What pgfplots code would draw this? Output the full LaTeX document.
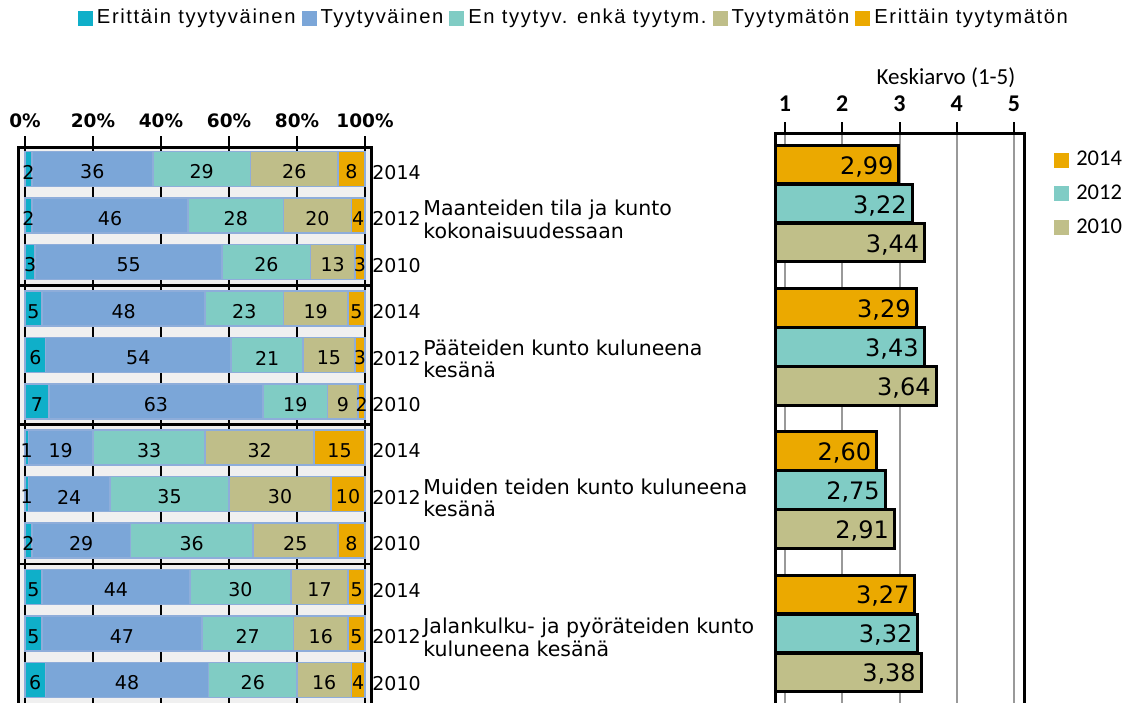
\documentclass[border=0pt]{standalone}
\usepackage{fontspec}
\setmainfont{DejaVu Sans}
\newfontfamily\calibri{Carlito}
\newfontfamily\arialsp[LetterSpace=8]{Liberation Sans}
\usepackage{pgfplots}
\pgfplotsset{compat=1.18}
\usepackage{pgfplotstable}

\definecolor{cEt}{HTML}{0FAFC9}
\definecolor{cTy}{HTML}{7BA6D8}
\definecolor{cEn}{HTML}{80CCC4}
\definecolor{cTm}{HTML}{BFBE89}
\definecolor{cEm}{HTML}{EBA900}
\definecolor{cBd}{HTML}{8EADDA}
\definecolor{r14}{HTML}{EBA900}
\definecolor{r12}{HTML}{80CCC5}
\definecolor{r10}{HTML}{C0BF89}

\pgfplotstableread{
y      et    ty     en     tm     em
-169   1.98  35.64  28.71  25.74  7.92
-215.5 2     46     28     20     4
-262   3     55     26     13     3
-308.5 5     48     23     19     5
-355   6.06  54.55  21.21  15.15  3.03
-401.5 7     63     19     9      2
-447.5 1     19     33     32     15
-494   1     24     35     30     10
-540.5 2     29     36     25     8
-587   4.95  43.56  29.70  16.83  4.95
-633.5 5     47     27     16     5
-680   6     48     26     16     4
}\leftdata

\pgfplotstableread{
y      m1    m2     m3     m4     m5     l1 l2 l3 l4 l5
-169   0.99  19.80  51.98  79.20  96.03  2  36 29 26 8
-215.5 1     25     62     86     98     2  46 28 20 4
-262   1.5   30.5   71     90.5   98.5   3  55 26 13 3
-308.5 2.5   29     64.5   85.5   97.5   5  48 23 19 5
-355   3.03  33.33  71.21  89.39  98.48  6  54 21 15 3
-401.5 3.5   38.5   79.5   93.5   99     7  63 19 9  2
-447.5 0.5   10.5   36.5   69     92.5   1  19 33 32 15
-494   0.5   13     42.5   75     95     1  24 35 30 10
-540.5 1     16.5   49     79.5   96     2  29 36 25 8
-587   2.48  26.73  63.36  86.63  97.52  5  44 30 17 5
-633.5 2.5   28.5   65.5   87     97.5   5  47 27 16 5
-680   3     30     67     88     98     6  48 26 16 4
}\labdata

\pgfplotstableread{
y      x     l
-164.5 2.99  2,99
-307.8 3.29  3,29
-451.1 2.60  2,60
-594.4 3.27  3,27
}\rA
\pgfplotstableread{
y      x     l
-203.5 3.22  3,22
-346.8 3.43  3,43
-490.1 2.75  2,75
-633.4 3.32  3,32
}\rB
\pgfplotstableread{
y      x     l
-242.5 3.44  3,44
-385.8 3.64  3,64
-529.1 2.91  2,91
-672.4 3.38  3,38
}\rC

\pgfplotsset{
  sq/.style={legend image code/.code={\path[##1,draw=none] (0pt,-3.75pt) rectangle (7.5pt,3.75pt);}},
  lab/.style={draw=none, mark=none, nodes near coords, point meta=explicit symbolic,
    every node near coord/.append style={anchor=center, inner sep=0pt, text=black,
      font=\fontsize{9.5}{10}\selectfont, yshift=-1.5pt}},
}

\begin{document}
\begin{tikzpicture}
\useasboundingbox (0,0) rectangle (567.5pt,-351pt);
\clip (0,0) rectangle (567.5pt,-351pt);

% left stacked bars
\begin{axis}[
  at={(9pt,-73.5pt)}, anchor=north west, scale only axis,
  width=176.5pt, height=281.5pt,
  xmin=-2.06, xmax=101.76, ymin=-710, ymax=-147,
  xbar stacked, bar width=35,
  axis background/.style={fill=black!6},
  axis line style={black, line width=1.5pt},
  tick align=outside, major tick length=5.5pt,
  xtick={0,20,40,60,80,100}, xticklabels={0\%,20\%,40\%,60\%,80\%,100\%},
  xtick pos=right, xticklabel pos=right,
  xticklabel style={font=\fontsize{9.25}{10}\selectfont\bfseries, inner sep=0pt, yshift=4pt},
  xtick style={black, line width=1pt},
  xmajorgrids, major grid style={black, line width=0.6pt},
  ytick={-169,-215.5,-262,-308.5,-355,-401.5,-447.5,-494,-540.5,-587,-633.5,-680},
  yticklabels={2014,2012,2010,2014,2012,2010,2014,2012,2010,2014,2012,2010},
  yticklabel pos=right,
  ytick style={draw=none},
  yticklabel style={font=\fontsize{9.5}{10}\selectfont, anchor=west, inner sep=0pt, xshift=-5pt, yshift=-1.75pt},
  extra y ticks={-285.3,-424.5,-563.8},
  extra y tick labels={},
  extra y tick style={grid=major, major grid style={black, line width=1.25pt}, tick style={draw=none}},
  legend columns=5,
  legend style={at={(1.575,1.229)}, anchor=center, draw=none, fill=none,
    font=\arialsp\fontsize{10.1}{11}\selectfont,
    /tikz/every odd column/.append style={column sep=1pt},
    /tikz/every even column/.append style={column sep=2pt}, nodes={inner sep=1pt}},
]
\addplot[sq, fill=cEt, draw=cBd, line width=0.8pt] table[x=et,y=y]{\leftdata};
\addlegendentry{Erittäin tyytyväinen}
\addplot[sq, fill=cTy, draw=cBd, line width=0.8pt] table[x=ty,y=y]{\leftdata};
\addlegendentry{Tyytyväinen}
\addplot[sq, fill=cEn, draw=cBd, line width=0.8pt] table[x=en,y=y]{\leftdata};
\addlegendentry{En tyytyv. enkä tyytym.}
\addplot[sq, fill=cTm, draw=cBd, line width=0.8pt] table[x=tm,y=y]{\leftdata};
\addlegendentry{Tyytymätön}
\addplot[sq, fill=cEm, draw=cBd, line width=0.8pt] table[x=em,y=y]{\leftdata};
\addlegendentry{Erittäin tyytymätön}
\end{axis}

% labels overlay
\begin{axis}[
  at={(9pt,-73.5pt)}, anchor=north west, scale only axis,
  width=176.5pt, height=281.5pt,
  xmin=-2.06, xmax=101.76, ymin=-710, ymax=-147,
  hide axis, clip=false,
]
\addplot[lab] table[x=m1,y=y,meta=l1]{\labdata};
\addplot[lab] table[x=m2,y=y,meta=l2]{\labdata};
\addplot[lab] table[x=m3,y=y,meta=l3]{\labdata};
\addplot[lab] table[x=m4,y=y,meta=l4]{\labdata};
\addplot[lab] table[x=m5,y=y,meta=l5]{\labdata};
\begin{scope}[every node/.style={anchor=base west, inner sep=0pt, font=\fontsize{10.25}{11}\selectfont}]
\node at (axis cs:117.06,-215.5) {Maanteiden tila ja kunto};
\node at (axis cs:117.06,-238) {kokonaisuudessaan};
\node at (axis cs:117.06,-355) {Pääteiden kunto kuluneena};
\node at (axis cs:117.06,-377.5) {kesänä};
\node at (axis cs:117.06,-494) {Muiden teiden kunto kuluneena};
\node at (axis cs:117.06,-516.5) {kesänä};
\node at (axis cs:117.06,-633.5) {Jalankulku- ja pyöräteiden kunto};
\node at (axis cs:117.06,-656) {kuluneena kesänä};
\end{scope}
\end{axis}

% right mean bars
\begin{axis}[
  at={(387.5pt,-66.5pt)}, anchor=north west, scale only axis,
  width=124.5pt, height=288.5pt,
  xmin=0.825, xmax=5.175, ymin=-710, ymax=-133,
  xbar, bar shift=0pt, bar width=38.5,
  clip mode=individual,
  axis line style={black, line width=1.5pt},
  tick align=outside, major tick length=5.5pt,
  xtick={1,2,3,4,5}, xticklabels={1,2,3,4,5},
  xtick pos=right, xticklabel pos=right,
  xticklabel style={font=\calibri\bfseries\fontsize{12}{13}\selectfont, inner sep=0pt, yshift=5pt},
  xtick style={black, line width=1pt},
  xmajorgrids, major grid style={black!40, line width=1pt},
  ytick=\empty,
  nodes near coords, point meta=explicit symbolic,
  every node near coord/.append style={anchor=east, inner sep=2pt, text=black,
    font=\fontsize{12}{13}\selectfont, yshift=-1pt},
  legend style={at={(1.096,0.981)}, anchor=north west, draw=none, fill=none,
    font=\calibri\fontsize{11.25}{12}\selectfont, row sep=5pt, nodes={inner sep=1.5pt},
    /tikz/every odd column/.append style={column sep=2pt}},
  legend cell align=left,
]
\addplot[sq, fill=r14, draw=black, line width=1.5pt] table[x=x,y=y,meta=l]{\rA};
\addlegendentry{2014}
\addplot[sq, fill=r12, draw=black, line width=1.5pt] table[x=x,y=y,meta=l]{\rB};
\addlegendentry{2012}
\addplot[sq, fill=r10, draw=black, line width=1.5pt] table[x=x,y=y,meta=l]{\rC};
\addlegendentry{2010}
\node[anchor=base east, inner sep=0pt, font=\calibri\fontsize{11.5}{12}\selectfont] at (axis cs:5.03,-84) {Keskiarvo (1-5)};
\end{axis}
\end{tikzpicture}
\end{document}
